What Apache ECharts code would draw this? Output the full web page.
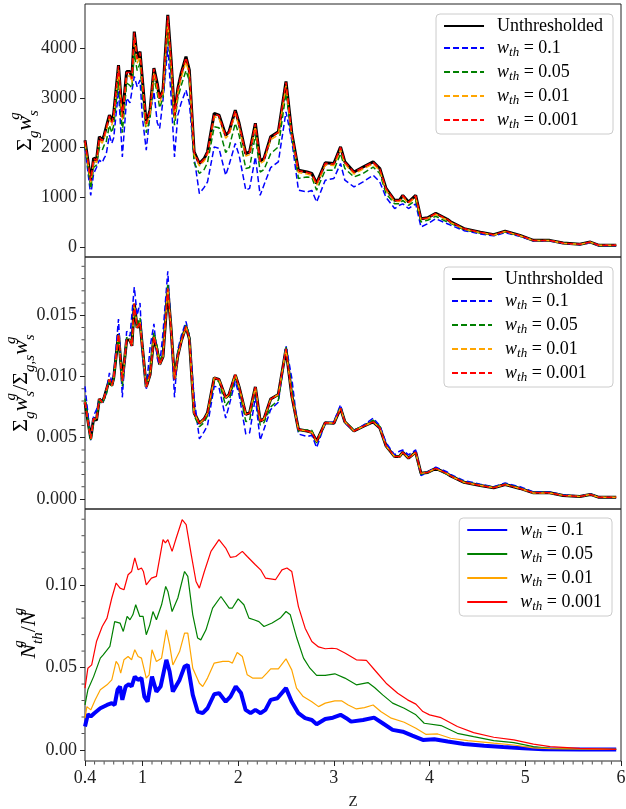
<!DOCTYPE html>
<html>
<head>
<meta charset="utf-8">
<script src="https://cdn.jsdelivr.net/npm/echarts/dist/echarts.min.js"></script>
<style>
  html, body { margin: 0; padding: 0; background: #fff; }
  #chart { width: 626px; height: 809px; }
</style>
</head>
<body>
<div id="chart"></div>
<script>
// redshift grid shared by the top two panels
var zTop = [0.40,0.46,0.49,0.52,0.55,0.58,0.60,0.62,0.655,0.68,0.70,
  0.75,0.79,0.835,0.87,0.89,0.915,0.945,0.975,1.00,
  1.04,1.08,1.12,1.155,1.18,1.215,1.265,1.30,1.335,1.37,1.405,1.455,1.49,
  1.54,1.595,1.645,1.68,1.75,1.80,1.87,1.905,1.97,2.01,
  2.08,2.12,2.18,2.23,2.27,2.34,2.42,2.50,2.56,
  2.63,2.72,2.77,2.82,2.91,3.00,3.07,3.115,
  3.21,3.305,3.41,3.48,3.545,3.635,3.685,3.72,3.78,3.855,
  3.91,3.98,4.065,4.185,4.22,
  4.36,4.53,4.67,4.79,4.945,5.085,5.255,5.395,5.57,5.68,5.77,5.95];

// top panel: sum_g w_s^g
var sumUnthr = [2150,1340,1790,1750,2220,2150,2250,2250,2655,2520,2690,
  3660,2620,3530,3530,3400,4335,3800,3930,3360,
  2490,2760,3600,3290,2990,3160,4670,3760,2655,3190,3500,3830,3560,
  1915,1680,1780,1915,2690,2655,2250,2320,2755,2490,
  1880,1915,2490,1730,1780,2220,2320,3330,2300,
  1545,1510,1480,1280,1695,1680,2015,1715,
  1510,1610,1715,1580,1180,940,940,1040,905,1040,
  570,590,680,560,510,
  370,300,250,320,235,135,135,80,55,100,35,35];
var sum01 = [2000,1040,1480,1600,1750,1700,1790,1850,2250,2085,2200,
  3150,1815,3000,2900,2900,3430,3225,3360,2600,
  1950,2700,3125,2500,2385,2960,4030,3000,1815,2655,2900,3160,2900,
  1800,1075,1200,1310,2015,1985,1445,1650,2085,1850,
  1145,1180,1815,1040,1250,1600,1715,2720,2150,
  1145,1110,1140,905,1345,1380,1680,1345,
  1210,1310,1445,1310,1000,775,840,870,775,870,
  405,470,570,470,440,
  330,265,225,290,215,125,125,75,50,90,30,30];
var sum005 = [2050,1180,1600,1650,2000,1950,2050,2100,2450,2300,2450,
  3350,2300,3300,3250,3200,3900,3550,3700,3050,
  2300,2600,3400,3100,2800,3000,4400,3500,2450,3000,3250,3550,3350,
  1700,1480,1560,1700,2420,2400,1900,2000,2490,2250,
  1580,1600,2250,1510,1560,1880,2015,3100,2250,
  1380,1410,1400,1145,1545,1545,1880,1580,
  1410,1480,1610,1480,1075,870,870,940,840,940,
  505,540,620,505,480,
  350,285,240,305,225,130,130,78,53,95,33,33];
var sum001 = [2100,1300,1740,1700,2160,2090,2190,2190,2590,2450,2620,
  3570,2550,3440,3440,3310,4230,3700,3830,3270,
  2420,2690,3510,3200,2910,3080,4560,3660,2580,3100,3400,3730,3470,
  1860,1630,1730,1860,2620,2590,2190,2260,2690,2420,
  1830,1860,2420,1680,1730,2160,2260,3250,2240,
  1500,1470,1440,1240,1650,1640,1960,1670,
  1470,1570,1670,1540,1150,915,915,1010,880,1010,
  555,575,660,545,495,
  360,292,243,312,229,131,131,78,54,97,34,34];
var sum0001 = [2140,1335,1782,1742,2210,2140,2240,2240,2643,2509,2678,
  3644,2608,3514,3514,3385,4316,3783,3913,3345,
  2479,2748,3584,3275,2977,3146,4650,3743,2643,3176,3484,3813,3544,
  1906,1672,1772,1906,2678,2643,2240,2310,2743,2479,
  1871,1906,2479,1722,1772,2210,2310,3315,2290,
  1538,1503,1473,1274,1687,1672,2006,1707,
  1503,1603,1707,1573,1175,936,936,1035,901,1035,
  567,587,677,557,508,
  368,299,249,319,234,134,134,80,55,100,35,35];

// middle panel: normalised fraction
var fracUnthr = [0.00790,0.00493,0.00658,0.00643,0.00816,0.00790,0.00827,0.00827,0.00976,0.00926,0.00989,
  0.01345,0.00963,0.01298,0.01298,0.01250,0.01594,0.01397,0.01445,0.01235,
  0.00915,0.01015,0.01323,0.01209,0.01099,0.01162,0.01717,0.01382,0.00976,0.01173,0.01287,0.01408,0.01309,
  0.00704,0.00618,0.00654,0.00704,0.00989,0.00976,0.00827,0.00853,0.01013,0.00915,
  0.00691,0.00704,0.00915,0.00636,0.00654,0.00816,0.00853,0.01224,0.00846,
  0.00568,0.00555,0.00544,0.00471,0.00623,0.00618,0.00741,0.00630,
  0.00555,0.00592,0.00630,0.00581,0.00434,0.00346,0.00346,0.00382,0.00333,0.00382,
  0.00210,0.00217,0.00250,0.00206,0.00188,
  0.00136,0.00110,0.00092,0.00118,0.00086,0.00050,0.00050,0.00029,0.00020,0.00037,0.00013,0.00013];
var frac01 = [0.0092,0.0048,0.0068,0.0073,0.0080,0.0078,0.0082,0.0085,0.0103,0.0096,0.0101,
  0.0147,0.0083,0.0137,0.0133,0.0133,0.0173,0.0150,0.0160,0.0119,
  0.0089,0.0124,0.0143,0.0115,0.0109,0.0136,0.0186,0.0138,0.0083,0.0122,0.0133,0.0145,0.0133,
  0.0083,0.0049,0.0055,0.0060,0.0092,0.0091,0.0066,0.0076,0.0096,0.0085,
  0.0053,0.0054,0.0083,0.0048,0.0057,0.0073,0.0079,0.0125,0.0099,
  0.0053,0.0051,0.0052,0.0042,0.0062,0.0063,0.0077,0.0062,
  0.0056,0.0060,0.0066,0.0060,0.0046,0.0036,0.0039,0.0040,0.0036,0.0040,
  0.0019,0.0022,0.0026,0.0022,0.0020,
  0.0015,0.0012,0.0010,0.0013,0.0010,0.00057,0.00057,0.00034,0.00023,0.00041,0.00014,0.00014];
var frac005 = [0.0082,0.00472,0.0064,0.0066,0.0080,0.0078,0.0082,0.0084,0.0098,0.0092,0.0098,
  0.0134,0.0092,0.0132,0.0130,0.0128,0.0156,0.0142,0.0148,0.0122,
  0.0092,0.0104,0.0136,0.0124,0.0112,0.0120,0.0176,0.0140,0.0098,0.0120,0.0130,0.0142,0.0134,
  0.0068,0.0059,0.00624,0.0068,0.00968,0.0096,0.0076,0.0080,0.00996,0.0090,
  0.00632,0.0064,0.0090,0.00604,0.00624,0.00752,0.00806,0.0124,0.0090,
  0.00552,0.00564,0.0056,0.00458,0.00618,0.00618,0.00752,0.00632,
  0.00564,0.00592,0.00644,0.00592,0.0043,0.00348,0.00348,0.00376,0.00336,0.00376,
  0.00202,0.00216,0.00248,0.00202,0.00192,
  0.0014,0.00114,0.00096,0.00122,0.0009,0.00052,0.00052,0.00031,0.00021,0.00038,0.00013,0.00013];
var frac001 = [0.00792,0.00491,0.00657,0.00642,0.00815,0.00789,0.00826,0.00826,0.00977,0.00925,0.00988,
  0.01347,0.00962,0.01298,0.01298,0.01249,0.01596,0.01396,0.01445,0.01234,
  0.00913,0.01015,0.01325,0.01208,0.01098,0.01162,0.01721,0.01381,0.00974,0.01170,0.01283,0.01408,0.01309,
  0.00702,0.00615,0.00653,0.00702,0.00989,0.00977,0.00826,0.00853,0.01015,0.00913,
  0.00691,0.00702,0.00913,0.00634,0.00653,0.00815,0.00853,0.01226,0.00845,
  0.00566,0.00555,0.00543,0.00468,0.00623,0.00619,0.00740,0.00630,
  0.00555,0.00592,0.00630,0.00581,0.00434,0.00345,0.00345,0.00381,0.00332,0.00381,
  0.00209,0.00217,0.00249,0.00206,0.00187,
  0.00136,0.00110,0.00092,0.00118,0.00086,0.00049,0.00049,0.00029,0.00020,0.00037,0.00013,0.00013];
var frac0001 = [0.00791,0.00492,0.00658,0.00643,0.00816,0.00790,0.00827,0.00827,0.00976,0.00926,0.00989,
  0.01346,0.00963,0.01298,0.01298,0.01250,0.01595,0.01397,0.01445,0.01235,
  0.00914,0.01015,0.01324,0.01209,0.01099,0.01162,0.01718,0.01382,0.00975,0.01172,0.01286,0.01408,0.01309,
  0.00703,0.00617,0.00654,0.00703,0.00989,0.00976,0.00827,0.00853,0.01014,0.00914,
  0.00691,0.00703,0.00914,0.00635,0.00654,0.00816,0.00853,0.01225,0.00846,
  0.00567,0.00555,0.00544,0.00470,0.00623,0.00618,0.00741,0.00630,
  0.00555,0.00592,0.00630,0.00581,0.00434,0.00346,0.00346,0.00382,0.00333,0.00382,
  0.00210,0.00217,0.00250,0.00206,0.00188,
  0.00136,0.00110,0.00092,0.00118,0.00086,0.00050,0.00050,0.00029,0.00020,0.00037,0.00013,0.00013];

// bottom panel: N_th^g / N^g, each curve on its own z samples
var zN01 = [0.40,0.43,0.46,0.497,0.56,0.63,0.68,0.71,0.74,0.766,0.79,0.825,0.86,0.887,0.92,0.955,0.99,1.02,1.054,1.10,
  1.146,1.19,1.25,1.284,1.318,1.388,1.44,1.474,1.526,1.577,1.63,1.68,1.75,1.80,1.87,1.92,1.975,2.03,2.078,2.13,
  2.18,2.235,2.285,2.34,2.41,2.50,2.56,2.63,2.70,2.77,2.82,2.91,2.99,3.07,3.13,3.18,3.305,3.42,3.51,3.614,
  3.72,3.82,3.93,4.05,4.19,4.36,4.57,4.77,4.98,5.19,5.57,5.95];
var n01 = [0.0142,0.0217,0.0203,0.0223,0.0253,0.0273,0.0284,0.0273,0.0365,0.0385,0.0304,0.0385,0.0399,0.0385,0.0445,0.0425,0.0436,0.0324,0.0293,0.0445,
  0.0354,0.0385,0.0547,0.0476,0.0354,0.0425,0.0506,0.0516,0.0334,0.0233,0.0223,0.0253,0.0338,0.0345,0.0293,0.0324,0.0385,0.0345,0.0243,0.0223,
  0.0243,0.0223,0.0243,0.0304,0.0314,0.0375,0.0293,0.0223,0.0193,0.0182,0.0156,0.0188,0.0196,0.0213,0.0193,0.0172,0.0182,0.0196,0.0162,0.0122,
  0.0111,0.0087,0.0061,0.0065,0.0051,0.0036,0.0026,0.0018,0.0010,0.0004,0.0003,0.0003];
var zN005 = [0.40,0.43,0.49,0.56,0.59,0.66,0.71,0.766,0.80,0.84,0.87,0.90,0.93,0.973,1.007,1.04,1.077,1.11,1.146,1.20,
  1.243,1.266,1.31,1.37,1.44,1.474,1.526,1.577,1.61,1.664,1.733,1.82,1.906,1.94,2.0,2.06,2.113,2.165,2.217,2.27,
  2.355,2.44,2.50,2.545,2.613,2.683,2.75,2.82,2.91,3.01,3.115,3.235,3.356,3.425,3.51,3.614,3.735,3.857,3.944,4.12,
  4.29,4.46,4.67,4.88,5.085,5.26,5.57,5.95];
var n005 = [0.0273,0.0365,0.0445,0.0557,0.0577,0.0628,0.0779,0.0770,0.0719,0.0810,0.0790,0.0820,0.0881,0.0810,0.0810,0.0699,0.0759,0.0840,0.0790,0.0881,
  0.0992,0.0962,0.0840,0.0922,0.1083,0.1053,0.0820,0.0679,0.0668,0.0729,0.0861,0.0931,0.0861,0.0861,0.0917,0.0881,0.0800,0.0790,0.0779,0.0749,
  0.0770,0.0800,0.0840,0.0820,0.0679,0.0557,0.0496,0.0452,0.0452,0.0462,0.0436,0.0395,0.0409,0.0379,0.0334,0.0284,0.0253,0.0213,0.0162,0.0148,
  0.0101,0.0081,0.0057,0.0044,0.0020,0.0010,0.0007,0.0003];
var zN001 = [0.40,0.42,0.46,0.507,0.56,0.63,0.68,0.725,0.75,0.773,0.807,0.85,0.887,0.92,0.955,0.99,1.04,1.07,1.10,1.146,
  1.20,1.25,1.284,1.318,1.388,1.44,1.474,1.526,1.595,1.63,1.68,1.75,1.84,1.906,1.94,1.99,2.044,2.095,2.15,2.25,
  2.30,2.34,2.42,2.50,2.56,2.61,2.68,2.77,2.84,2.91,3.01,3.08,3.15,3.235,3.32,3.41,3.49,3.60,3.735,3.857,
  3.96,4.085,4.22,4.40,4.67,4.88,5.085,5.26,5.95];
var n001 = [0.0193,0.0263,0.0243,0.0304,0.0365,0.0395,0.0425,0.0537,0.0516,0.0466,0.0547,0.0567,0.0547,0.0608,0.0567,0.0557,0.0436,0.0456,0.0608,0.0537,
  0.0557,0.0729,0.0638,0.0516,0.0597,0.0709,0.0709,0.0496,0.0405,0.0385,0.0436,0.0527,0.0537,0.0537,0.0527,0.0591,0.0567,0.0456,0.0436,0.0436,
  0.0466,0.0492,0.0492,0.0553,0.0486,0.0375,0.0324,0.0293,0.0263,0.0284,0.0298,0.0298,0.0273,0.0249,0.0257,0.0273,0.0233,0.0193,0.0168,0.0132,
  0.0095,0.0097,0.0071,0.0057,0.0041,0.0030,0.0013,0.0008,0.0003];
var zN0001 = [0.40,0.43,0.47,0.52,0.58,0.63,0.68,0.725,0.766,0.807,0.85,0.887,0.92,0.955,0.99,1.01,1.04,1.094,1.146,1.215,
  1.24,1.266,1.31,1.353,1.415,1.457,1.51,1.56,1.595,1.647,1.716,1.80,1.87,1.92,1.975,2.044,2.095,2.18,2.235,2.285,
  2.39,2.458,2.51,2.56,2.63,2.70,2.77,2.84,2.91,2.98,3.03,3.12,3.235,3.34,3.44,3.546,3.667,3.77,3.857,3.93,
  4.0,4.12,4.29,4.46,4.67,4.88,5.085,5.26,5.57,5.95];
var n0001 = [0.0375,0.0496,0.0516,0.0658,0.0749,0.080,0.0922,0.1013,0.0982,0.0972,0.1063,0.1083,0.1165,0.1093,0.1104,0.1083,0.1002,0.1043,0.1053,0.1276,
  0.1256,0.1276,0.1205,0.1286,0.1397,0.1367,0.1185,0.1022,0.0982,0.1083,0.1205,0.1276,0.1225,0.1168,0.1174,0.1205,0.1174,0.1124,0.1093,0.1043,
  0.1033,0.1093,0.1104,0.1083,0.087,0.0739,0.0658,0.0625,0.0614,0.0617,0.0614,0.0587,0.0547,0.0543,0.0476,0.0405,0.0344,0.0304,0.0278,0.0233,
  0.0213,0.0196,0.0142,0.0105,0.0077,0.0061,0.0035,0.0020,0.0010,0.0004];

// tick labels
var zTicks = [0.4, 1, 2, 3, 4, 5, 6];
var sumTicks = [0, 1000, 2000, 3000, 4000];
var fracTicks = [0, 0.005, 0.010, 0.015];
var fracMinor = [0.001,0.002,0.003,0.004,0.006,0.007,0.008,0.009,0.011,0.012,0.013,0.014,0.016,0.017,0.018,0.019];
var nTicks = [0, 0.05, 0.10];
var nMinor = [0.01,0.02,0.03,0.04,0.06,0.07,0.08,0.09,0.11,0.12,0.13,0.14];

var thresholds = ['0.1', '0.05', '0.01', '0.001'];
var colors = ['#0000ff', '#008000', '#ffa500', '#ff0000'];

var SERIF = "'Liberation Serif', 'DejaVu Serif', serif";
var Z_MIN = 0.4, Z_MAX = 6;
var FRAC_MIN = -0.00082, FRAC_MAX = 0.01976;
var N_MIN = -0.0067, N_MAX = 0.1462;

function pairs(zs, vs) {
  return zs.map(function (z, i) { return [z, vs[i]]; });
}

var zMinor = [];
for (var k = 5; k < 60; k++) {
  if (k % 10 !== 0) zMinor.push(k / 10);
}

// rich styles for the math-ish labels
var mathRich = {
  S: { fontFamily: SERIF, fontSize: 22, lineHeight: 34, color: '#000' },
  i: { fontFamily: SERIF, fontStyle: 'italic', fontSize: 22, lineHeight: 34, color: '#000' },
  sb: { fontFamily: SERIF, fontStyle: 'italic', fontSize: 15, lineHeight: 16, verticalAlign: 'bottom', color: '#000' },
  sp: { fontFamily: SERIF, fontStyle: 'italic', fontSize: 15, lineHeight: 16, verticalAlign: 'top', width: 0, color: '#000' }
};

var legendRich = {
  g: { width: 8 },
  t: { fontFamily: SERIF, fontSize: 18, lineHeight: 22, color: '#000' },
  i: { fontFamily: SERIF, fontStyle: 'italic', fontSize: 18, lineHeight: 22, color: '#000' },
  sb: { fontFamily: SERIF, fontStyle: 'italic', fontSize: 13, lineHeight: 12, verticalAlign: 'bottom', color: '#000' }
};

function legendText(name) {
  var parts = name.split('|');
  if (parts.length < 2) return '{g|}{t|' + name + '}';
  return '{g|}{i|w}{sb|th}{t| = ' + parts[1] + '}';
}

function makeLegend(top, right, names) {
  return {
    top: top, right: right, orient: 'vertical', align: 'left',
    data: names, selectedMode: false,
    itemWidth: 40, itemHeight: 14, itemGap: 4,
    padding: [3, 10, 3, 7],
    backgroundColor: 'rgba(255,255,255,0.8)',
    borderColor: '#cccccc', borderWidth: 1, borderRadius: 4,
    itemStyle: { opacity: 0, borderWidth: 0 },
    formatter: legendText,
    textStyle: { rich: legendRich }
  };
}

function line(name, xi, yi, data, color, width, dashed, z) {
  return {
    name: name, type: 'line', xAxisIndex: xi, yAxisIndex: yi,
    data: data, showSymbol: false, symbol: 'none', z: z,
    lineStyle: { color: color, width: width, type: dashed ? [6, 3] : 'solid' },
    itemStyle: { color: color },
    emphasis: { disabled: true }, silent: true
  };
}

// short minor tick marks sitting on the axis edge
function minorTicks(xi, yi, data, size, offset) {
  return {
    type: 'scatter', xAxisIndex: xi, yAxisIndex: yi, data: data,
    symbol: 'rect', symbolSize: size, symbolOffset: offset,
    itemStyle: { color: '#222' }, clip: false, silent: true, z: 10,
    emphasis: { disabled: true }
  };
}

var topSets = [sum01, sum005, sum001, sum0001];
var midSets = [frac01, frac005, frac001, frac0001];
var botZ = [zN01, zN005, zN001, zN0001];
var botN = [n01, n005, n001, n0001];

var series = [];
series.push(line('Unthresholded', 0, 0, pairs(zTop, sumUnthr), '#000', 3, false, 2));
series.push(line('Unthrsholded', 1, 1, pairs(zTop, fracUnthr), '#000', 3, false, 2));
thresholds.forEach(function (t, j) {
  series.push(line('a|' + t, 0, 0, pairs(zTop, topSets[j]), colors[j], 1.5, true, 3 + j));
  series.push(line('b|' + t, 1, 1, pairs(zTop, midSets[j]), colors[j], 1.5, true, 3 + j));
  series.push(line('c|' + t, 2, 2, pairs(botZ[j], botN[j]), colors[j], j === 0 ? 4 : 1.2, false, 3 + j));
});
series.push(minorTicks(1, 1, fracMinor.map(function (v) { return [Z_MIN, v]; }), [3, 1], [-2, 0]));
series.push(minorTicks(2, 2, nMinor.map(function (v) { return [Z_MIN, v]; }), [3, 1], [-2, 0]));
series.push(minorTicks(2, 2, zMinor.map(function (z) { return [z, N_MIN]; }), [1, 3], [0, 2]));

var tickColor = '#222';
var labelStyle = { fontFamily: SERIF, fontSize: 18, color: '#222' };

function hiddenX(gi) {
  return {
    type: 'value', gridIndex: gi, min: Z_MIN, max: Z_MAX, position: 'bottom',
    axisLine: { show: false, onZero: false }, axisTick: { show: false },
    axisLabel: { show: false }, splitLine: { show: false }
  };
}

function gridBox(top, height) {
  return { left: 85, right: 5, top: top, height: height, show: true,
    borderColor: '#222', borderWidth: 1, containLabel: false, outerBoundsMode: 'none' };
}

function yAxisOf(gi, min, max, ticks, fmt, name, gap) {
  return {
    type: 'value', gridIndex: gi, min: min, max: max, position: 'left',
    name: name, nameLocation: 'middle', nameGap: gap, nameMoveOverlap: false,
    nameTextStyle: { rich: mathRich },
    axisLine: { show: false, onZero: false },
    axisTick: { show: true, customValues: ticks, length: 5, lineStyle: { color: tickColor } },
    axisLabel: Object.assign({ customValues: ticks, margin: 8, formatter: fmt }, labelStyle),
    splitLine: { show: false }
  };
}

var option = {
  animation: false,
  backgroundColor: '#fff',
  grid: [gridBox(4, 253), gridBox(257, 252), gridBox(509, 252)],
  xAxis: [
    hiddenX(0),
    hiddenX(1),
    {
      type: 'value', gridIndex: 2, min: Z_MIN, max: Z_MAX, position: 'bottom',
      name: 'Z', nameLocation: 'middle', nameGap: 34, nameMoveOverlap: false,
      nameTextStyle: { fontFamily: SERIF, fontSize: 15, color: '#222' },
      axisLine: { show: false, onZero: false },
      axisTick: { show: true, customValues: zTicks, length: 5, lineStyle: { color: tickColor } },
      axisLabel: Object.assign({ customValues: zTicks, margin: 8,
        formatter: function (v) { return String(v); } }, labelStyle),
      splitLine: { show: false }
    }
  ],
  yAxis: [
    yAxisOf(0, -200, 4890, sumTicks, function (v) { return String(v); },
      '{S|Σ}{sb|g}{i|w}{sp|g}{sb|s}', 43),
    yAxisOf(1, FRAC_MIN, FRAC_MAX, fracTicks, function (v) { return v.toFixed(3); },
      '{S|Σ}{sb|g}{i|w}{sp|g}{sb|s}{S|/}{S|Σ}{sb|g,s}{i|w}{sp|g}{sb|s}', 47),
    yAxisOf(2, N_MIN, N_MAX, nTicks, function (v) { return v.toFixed(2); },
      '{i|N}{sp|g}{sb|th}{S|/}{i|N}{sp|g}', 39)
  ],
  legend: [
    makeLegend(14, 13, ['Unthresholded', 'a|0.1', 'a|0.05', 'a|0.01', 'a|0.001']),
    makeLegend(267, 13, ['Unthrsholded', 'b|0.1', 'b|0.05', 'b|0.01', 'b|0.001']),
    makeLegend(518, 14, ['c|0.1', 'c|0.05', 'c|0.01', 'c|0.001'])
  ],
  series: series
};

var chart = echarts.init(document.getElementById('chart'), null, { renderer: 'canvas' });
chart.setOption(option);
</script>
</body>
</html>
